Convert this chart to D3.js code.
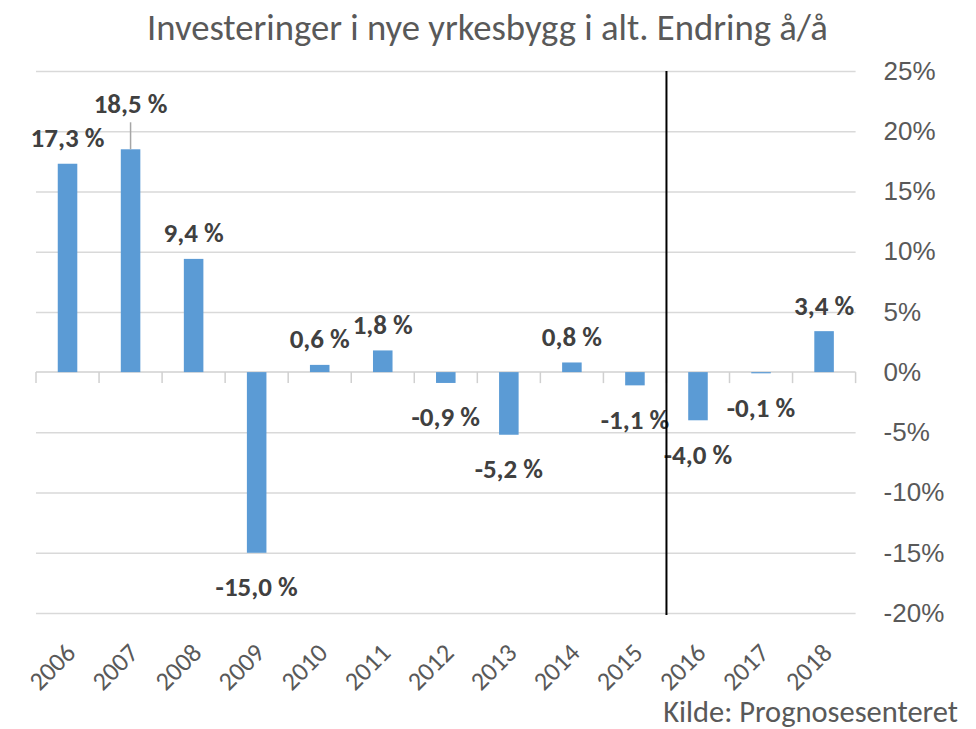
<!DOCTYPE html>
<html>
<head>
<meta charset="utf-8">
<script src="https://cdn.jsdelivr.net/npm/d3@7"></script>
<style>
    body { margin: 0; background: #fff; }
    svg { display: block; font-family: Carlito, Calibri, 'Liberation Sans', Arial, sans-serif; }
    .grid line { stroke: #d9d9d9; stroke-width: 1.5; }
    .grid .domain { display: none; }
    .y-axis text { fill: #595959; font-size: 26px; }
    .y-axis .domain, .y-axis line { display: none; }
    .x-label { fill: #595959; font-size: 26px; }
    .bar { fill: #5b9bd5; }
    .bar-label { fill: #404040; font-size: 27px; font-weight: bold; }
</style>
</head>
<body>
<div id="content"></div>
<script>
const YEARS = ['2006', '2007', '2008', '2009', '2010', '2011', '2012', '2013', '2014', '2015', '2016', '2017', '2018'];
const CHANGE = [17.3, 18.5, 9.4, -15.0, 0.6, 1.8, -0.9, -5.2, 0.8, -1.1, -4.0, -0.1, 3.4];
const Y_TICKS = [-20, -15, -10, -5, 0, 5, 10, 15, 20, 25];
const FORECAST_FROM = '2016';
const TITLE = 'Investeringer i nye yrkesbygg i alt. Endring å/å';
const SOURCE = 'Kilde: Prognosesenteret';

var width = 976;
var height = 729;

var plotLeft = 36, plotRight = 855.6;
var plotTop = 71, plotBottom = 613;

var nok = d3.formatLocale({decimal: ',', thousands: ' ', grouping: [3], currency: ['', ' kr'], minus: '-'});
var pct = nok.format('.1f');

var svg = d3.select('#content')
    .append('svg')
    .attr('width', width)
    .attr('height', height);

var xScale = d3.scaleBand()
    .domain(YEARS)
    .range([plotLeft, plotRight])
    .paddingInner(0.69)
    .paddingOuter(0.345);

var yScale = d3.scaleLinear()
    .domain([d3.min(Y_TICKS), d3.max(Y_TICKS)])
    .range([plotBottom, plotTop]);

// text that has to fill a given width
function fitText(sel, target) {
    var len = sel.node().getComputedTextLength();
    var size = parseFloat(sel.attr('font-size'));
    sel.attr('font-size', size * target / len);
}

var title = svg.append('text')
    .attr('x', 487.5)
    .attr('y', 40)
    .attr('text-anchor', 'middle')
    .attr('font-size', 36)
    .attr('font-weight', 300)
    .attr('fill', '#595959')
    .text(TITLE);
fitText(title, 681);

// gridlines
svg.append('g')
    .attr('class', 'grid')
    .attr('transform', 'translate(' + plotRight + ', 0)')
    .call(d3.axisLeft(yScale)
        .tickValues(Y_TICKS.filter(function (d) {return d !== 0;}))
        .tickSize(plotRight - plotLeft)
        .tickFormat(''));

svg.append('g')
    .attr('class', 'y-axis')
    .attr('transform', 'translate(' + plotRight + ', 0)')
    .call(d3.axisRight(yScale)
        .tickValues(Y_TICKS)
        .tickSize(0)
        .tickPadding(28)
        .tickFormat(function (d) {return d + '%';}));

// category boundaries on the zero line
var step = xScale.step();
var edges = YEARS.map(function (d) {return xScale(d) - (step - xScale.bandwidth()) / 2;});
edges.push(plotRight);

svg.append('line')
    .attr('x1', plotLeft)
    .attr('x2', plotRight)
    .attr('y1', yScale(0))
    .attr('y2', yScale(0))
    .attr('stroke', '#d0d0d0')
    .attr('stroke-width', 1.5);

svg.selectAll('.cat-tick')
    .data(edges)
    .enter()
    .append('line')
    .attr('class', 'cat-tick')
    .attr('x1', function (d) {return d;})
    .attr('x2', function (d) {return d;})
    .attr('y1', yScale(0))
    .attr('y2', yScale(0) + 11)
    .attr('stroke', '#d0d0d0')
    .attr('stroke-width', 1.5);

svg.selectAll('.bar')
    .data(CHANGE)
    .enter()
    .append('rect')
    .attr('class', 'bar')
    .attr('x', function (b, i) {return xScale(YEARS[i]);})
    .attr('width', xScale.bandwidth())
    .attr('y', function (b) {return yScale(Math.max(0, b));})
    .attr('height', function (b) {return Math.abs(yScale(b) - yScale(0));});

// 2007 label was dragged up in the original, with a leader line
var lifted = {'2007': 20};

svg.selectAll('.bar-label')
    .data(CHANGE)
    .enter()
    .append('text')
    .attr('class', 'bar-label')
    .attr('text-anchor', 'middle')
    .attr('dy', '0.35em')
    .attr('x', function (b, i) {return xScale(YEARS[i]) + xScale.bandwidth() / 2;})
    .attr('y', function (b, i) {
        var lift = lifted[YEARS[i]] || 0;
        return b >= 0 ? yScale(b) - 26 - lift : yScale(b) + 34;
    })
    .text(function (b) {return pct(b) + ' %';});

Object.keys(lifted).forEach(function (year) {
    var i = YEARS.indexOf(year);
    var cx = xScale(year) + xScale.bandwidth() / 2;
    svg.append('line')
        .attr('x1', cx)
        .attr('x2', cx)
        .attr('y1', yScale(CHANGE[i]) - 27)
        .attr('y2', yScale(CHANGE[i]))
        .attr('stroke', '#a6a6a6')
        .attr('stroke-width', 1.5);
});

svg.selectAll('.x-label')
    .data(YEARS)
    .enter()
    .append('text')
    .attr('class', 'x-label')
    .attr('text-anchor', 'end')
    .attr('dy', '0.35em')
    .attr('transform', function (d) {
        return 'translate(' + (xScale(d) + xScale.bandwidth() / 2 + 3) + ', 648) rotate(-45)';
    })
    .text(function (d) {return d;});

// forecast divider
var divX = xScale(FORECAST_FROM) - (step - xScale.bandwidth()) / 2;
svg.append('line')
    .attr('x1', divX)
    .attr('x2', divX)
    .attr('y1', yScale(25))
    .attr('y2', yScale(-20) + 2)
    .attr('stroke', '#000')
    .attr('stroke-width', 2);

var source = svg.append('text')
    .attr('x', 958)
    .attr('y', 722)
    .attr('text-anchor', 'end')
    .attr('font-size', 26)
    .attr('fill', '#595959')
    .text(SOURCE);
fitText(source, 295);
</script>
</body>
</html>
